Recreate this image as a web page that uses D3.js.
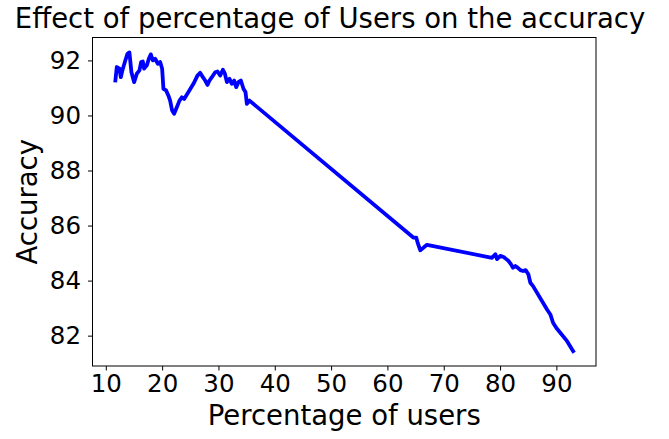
<!DOCTYPE html>
<html>
<head>
<meta charset="utf-8">
<script src="https://cdn.jsdelivr.net/npm/d3@7"></script>
<style>
  body { margin: 0; background: #fff; }
  text { font-family: "DejaVu Sans", sans-serif; fill: #000; }
</style>
</head>
<body>
<div id="chart"></div>
<script>
// data
const users = [
  11.7, 11.95, 12.42, 12.66, 12.95, 13.38, 13.84, 14.19, 14.55, 15.03,
  15.51, 15.97, 16.27, 16.57, 16.80, 17.28, 17.64, 17.99, 18.35, 18.76,
  19.24, 19.65, 20.00, 20.23, 20.71, 21.12, 21.42, 21.78, 22.13, 22.61,
  23.08, 23.50, 23.91, 24.67, 25.56, 26.27, 26.75, 27.23, 27.64, 28.05,
  28.40, 28.83, 29.42, 29.83, 30.31, 30.79, 31.14, 31.50, 31.96, 32.38,
  32.79, 33.15, 33.56, 33.98, 34.44, 34.80, 35.05, 35.51,
  64.65, 65.13, 65.36, 65.84, 66.42, 67.03,
  78.57, 79.16, 79.46, 80.04, 80.63, 81.11, 81.52, 81.95, 82.30, 82.71,
  83.12, 83.60, 84.08, 84.54, 85.02, 85.38, 85.86, 88.34, 88.93, 89.41,
  90.00, 91.90, 92.97
];
const accuracy = [
  91.27, 91.76, 91.70, 91.39, 91.64, 91.94, 92.24, 92.29, 91.57, 91.21,
  91.52, 91.64, 91.94, 91.96, 91.70, 91.82, 92.06, 92.22, 92.00, 92.06,
  91.88, 91.94, 91.70, 90.97, 90.91, 90.72, 90.54, 90.18, 90.06, 90.30,
  90.54, 90.66, 90.60, 90.85, 91.15, 91.45, 91.55, 91.39, 91.27, 91.11,
  91.27, 91.39, 91.57, 91.60, 91.45, 91.66, 91.52, 91.21, 91.33, 91.15,
  91.27, 91.03, 91.21, 91.27, 90.97, 90.85, 90.42, 90.54,
  85.56, 85.56, 85.38, 85.10, 85.20, 85.30,
  84.83, 84.96, 84.78, 84.90, 84.86, 84.78, 84.71, 84.59, 84.47, 84.53,
  84.47, 84.38, 84.35, 84.38, 84.23, 83.92, 83.80, 82.95, 82.77, 82.47,
  82.28, 81.80, 81.44
];
const xTicks = [10, 20, 30, 40, 50, 60, 70, 80, 90];
const yTicks = [82, 84, 86, 88, 90, 92];

const width = 669, height = 439;
const plot = { left: 92.5, right: 596, top: 37.5, bottom: 366 };

const svg = d3.select("#chart").append("svg")
  .attr("width", width)
  .attr("height", height);

// matplotlib style 5% margins
function padded(vals) {
  const [lo, hi] = d3.extent(vals);
  const pad = (hi - lo) * 0.05;
  return [lo - pad, hi + pad];
}

const x = d3.scaleLinear().domain(padded(users)).range([plot.left, plot.right]);
const y = d3.scaleLinear().domain(padded(accuracy)).range([plot.bottom, plot.top]);

const pts = users.map((u, i) => [u, accuracy[i]]);

svg.append("path")
  .datum(pts)
  .attr("fill", "none")
  .attr("stroke", "#0000ff")
  .attr("stroke-width", 3.8)
  .attr("stroke-linejoin", "round")
  .attr("stroke-linecap", "square")
  .attr("d", d3.line().x(d => x(d[0])).y(d => y(d[1])));

// frame
svg.append("rect")
  .attr("x", plot.left)
  .attr("y", plot.top)
  .attr("width", plot.right - plot.left)
  .attr("height", plot.bottom - plot.top)
  .attr("fill", "none")
  .attr("stroke", "#000")
  .attr("stroke-width", 1);

const xAxis = svg.append("g")
  .attr("transform", `translate(0,${plot.bottom})`)
  .call(d3.axisBottom(x).tickValues(xTicks).tickSize(4.5).tickPadding(4).tickFormat(d3.format("d")));
const yAxis = svg.append("g")
  .attr("transform", `translate(${plot.left},0)`)
  .call(d3.axisLeft(y).tickValues(yTicks).tickSize(4.5).tickPadding(7).tickFormat(d3.format("d")));

[xAxis, yAxis].forEach(g => {
  g.select(".domain").remove();
  g.selectAll("text").attr("font-size", 24.5).attr("font-family", "DejaVu Sans, sans-serif");
});

svg.append("text")
  .attr("x", (plot.left + plot.right) / 2)
  .attr("y", 425)
  .attr("text-anchor", "middle")
  .attr("font-size", 27.5)
  .text("Percentage of users");

svg.append("text")
  .attr("transform", `translate(37,${(plot.top + plot.bottom) / 2}) rotate(-90)`)
  .attr("text-anchor", "middle")
  .attr("font-size", 27.5)
  .text("Accuracy");

svg.append("text")
  .attr("x", 330)
  .attr("y", 28)
  .attr("text-anchor", "middle")
  .attr("font-size", 27.5)
  .text("Effect of percentage of Users on the accuracy");
</script>
</body>
</html>
